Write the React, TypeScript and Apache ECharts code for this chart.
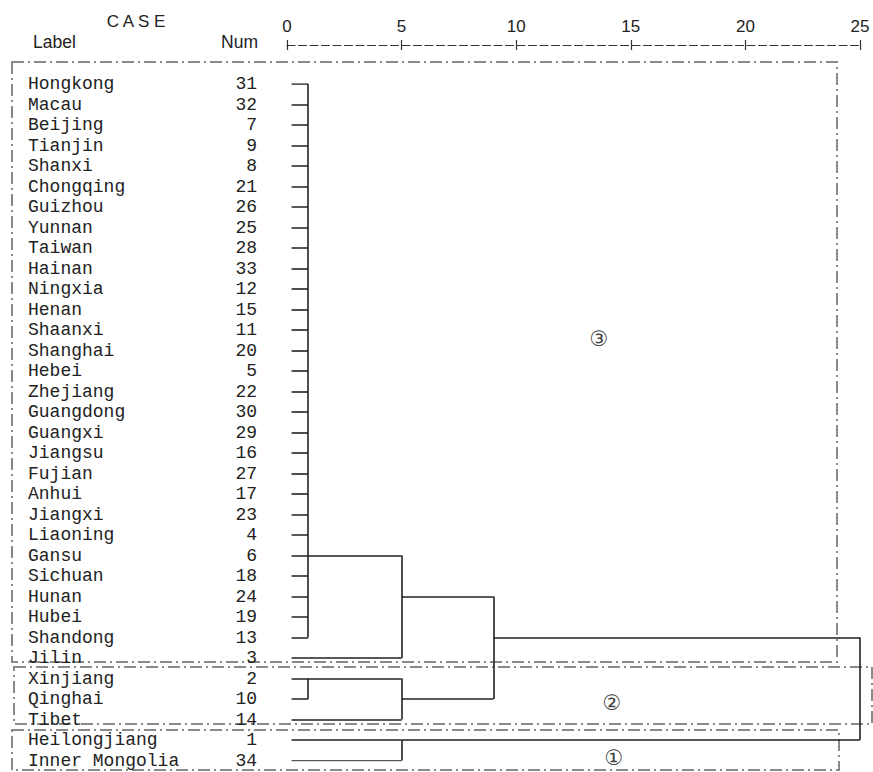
import React, { useEffect, useRef } from "react";
import * as echarts from "echarts";

const labels = [
  "Hongkong", "Macau", "Beijing", "Tianjin", "Shanxi", "Chongqing", "Guizhou", "Yunnan",
  "Taiwan", "Hainan", "Ningxia", "Henan", "Shaanxi", "Shanghai", "Hebei", "Zhejiang",
  "Guangdong", "Guangxi", "Jiangsu", "Fujian", "Anhui", "Jiangxi", "Liaoning", "Gansu",
  "Sichuan", "Hunan", "Hubei", "Shandong", "Jilin", "Xinjiang", "Qinghai", "Tibet",
  "Heilongjiang", "Inner Mongolia",
];
const caseNums = [
  31, 32, 7, 9, 8, 21, 26, 25, 28, 33, 12, 15, 11, 20, 5, 22, 30, 29, 16, 27, 17, 23, 4, 6,
  18, 24, 19, 13, 3, 2, 10, 14, 1, 34,
];
const axisTicks = [0, 5, 10, 15, 20, 25];

// rescaled distance where leaf lines start
const leafStart = 0.2;
// merges: children are leaf row indices (numbers) or earlier merges ("m<k>")
const mergeChildren: (number | string)[][] = [
  [0, 1, 2, 3, 4, 5, 6, 7, 8, 9, 10, 11, 12, 13, 14, 15, 16, 17, 18, 19, 20, 21, 22, 23, 24, 25, 26, 27],
  ["m0", 28],
  [29, 30],
  ["m2", 31],
  ["m1", "m3"],
  [32, 33],
  ["m4", "m5"],
];
const mergeHeights = [0.92, 5.0, 0.92, 5.0, 9.0, 5.0, 25.0];
const mergeAnchorRows = [23, 25, 29, 30, 27, 32, 30];

function buildSegments() {
  const segs: number[][][] = [];
  mergeChildren.forEach((children, j) => {
    const h = mergeHeights[j];
    let lo = Infinity;
    let hi = -Infinity;
    children.forEach((c) => {
      let x0: number;
      let row: number;
      if (typeof c === "number") {
        x0 = leafStart;
        row = c;
      } else {
        const k = parseInt(c.slice(1), 10);
        x0 = mergeHeights[k];
        row = mergeAnchorRows[k];
      }
      segs.push([[x0, row], [h, row]]);
      lo = Math.min(lo, row);
      hi = Math.max(hi, row);
    });
    segs.push([[h, lo], [h, hi]]);
  });
  return segs;
}

export default function App() {
  const ref = useRef<HTMLDivElement>(null);
  useEffect(() => {
    const chart = echarts.init(ref.current!, null, { renderer: "svg" });
    const boxStyle = {
      fill: "none",
      stroke: "#8a8a8a",
      lineWidth: 2,
      lineDash: [12, 4, 2, 4],
    };
    const headFont = "Liberation Sans";
    const circleFont = "DejaVu Sans, Noto Sans CJK SC";
    const option: any = {
      animation: false,
      backgroundColor: "#ffffff",
      grid: { left: 287, right: 13, top: 84, bottom: 11.5, containLabel: false },
      xAxis: [
        {
          type: "value",
          position: "top",
          min: axisTicks[0],
          max: axisTicks[axisTicks.length - 1],
          interval: 5,
          offset: 39,
          axisLine: { show: true, onZero: false, lineStyle: { color: "#333", width: 1.2, type: [8, 3.5] } },
          axisTick: { show: true, length: 5, lineStyle: { color: "#333", width: 1.2 } },
          axisLabel: { margin: 10, fontFamily: headFont, fontSize: 17, color: "#222" },
          splitLine: { show: false },
        },
        {
          type: "value",
          position: "top",
          min: axisTicks[0],
          max: axisTicks[axisTicks.length - 1],
          interval: 5,
          offset: 39,
          axisLine: { show: false, onZero: false },
          axisTick: { show: true, inside: true, length: 5, lineStyle: { color: "#333", width: 1.2 } },
          axisLabel: { show: false },
          splitLine: { show: false },
        },
      ],
      yAxis: [
        { type: "value", min: 0, max: labels.length - 1, inverse: true, show: false },
        {
          type: "category",
          data: labels,
          inverse: true,
          boundaryGap: false,
          position: "left",
          axisLine: { show: false },
          axisTick: { show: false },
          axisLabel: {
            interval: 0,
            align: "left",
            margin: 259,
            fontFamily: "Liberation Mono",
            fontSize: 18,
            color: "#222",
          },
        },
        {
          type: "category",
          data: caseNums.map(String),
          inverse: true,
          boundaryGap: false,
          position: "left",
          axisLine: { show: false },
          axisTick: { show: false },
          axisLabel: {
            interval: 0,
            align: "right",
            margin: 30,
            fontFamily: "Liberation Mono",
            fontSize: 18,
            color: "#222",
          },
        },
      ],
      series: [
        {
          type: "lines",
          coordinateSystem: "cartesian2d",
          xAxisIndex: 0,
          yAxisIndex: 0,
          polyline: false,
          silent: true,
          lineStyle: { color: "#222", width: 1.6, opacity: 1, curveness: 0 },
          data: buildSegments().map((s) => ({ coords: s })),
        },
      ],
      graphic: [
        { type: "rect", shape: { x: 12, y: 62, width: 825, height: 600 }, style: boxStyle, silent: true },
        { type: "rect", shape: { x: 14, y: 667, width: 858, height: 57 }, style: boxStyle, silent: true },
        { type: "rect", shape: { x: 12, y: 730, width: 827, height: 40 }, style: boxStyle, silent: true },
        {
          type: "text",
          style: { text: "C A S E", x: 136, y: 21, textAlign: "center", textVerticalAlign: "middle", fontFamily: headFont, fontSize: 17, fill: "#222" },
        },
        {
          type: "text",
          style: { text: "Label", x: 33, y: 42, textAlign: "left", textVerticalAlign: "middle", fontFamily: headFont, fontSize: 17.5, fill: "#222" },
        },
        {
          type: "text",
          style: { text: "Num", x: 258, y: 42, textAlign: "right", textVerticalAlign: "middle", fontFamily: headFont, fontSize: 17.5, fill: "#222" },
        },
        {
          type: "text",
          style: { text: "③", x: 599, y: 339, textAlign: "center", textVerticalAlign: "middle", fontFamily: circleFont, fontSize: 21, fill: "#444" },
        },
        {
          type: "text",
          style: { text: "②", x: 612, y: 703, textAlign: "center", textVerticalAlign: "middle", fontFamily: circleFont, fontSize: 21, fill: "#444" },
        },
        {
          type: "text",
          style: { text: "①", x: 614, y: 758, textAlign: "center", textVerticalAlign: "middle", fontFamily: circleFont, fontSize: 21, fill: "#444" },
        },
      ],
    };
    chart.setOption(option);
    return () => chart.dispose();
  }, []);
  return (
    <div
      ref={ref}
      style={{ position: "absolute", left: 0, top: 0, width: 873, height: 772, background: "#fff" }}
    />
  );
}
